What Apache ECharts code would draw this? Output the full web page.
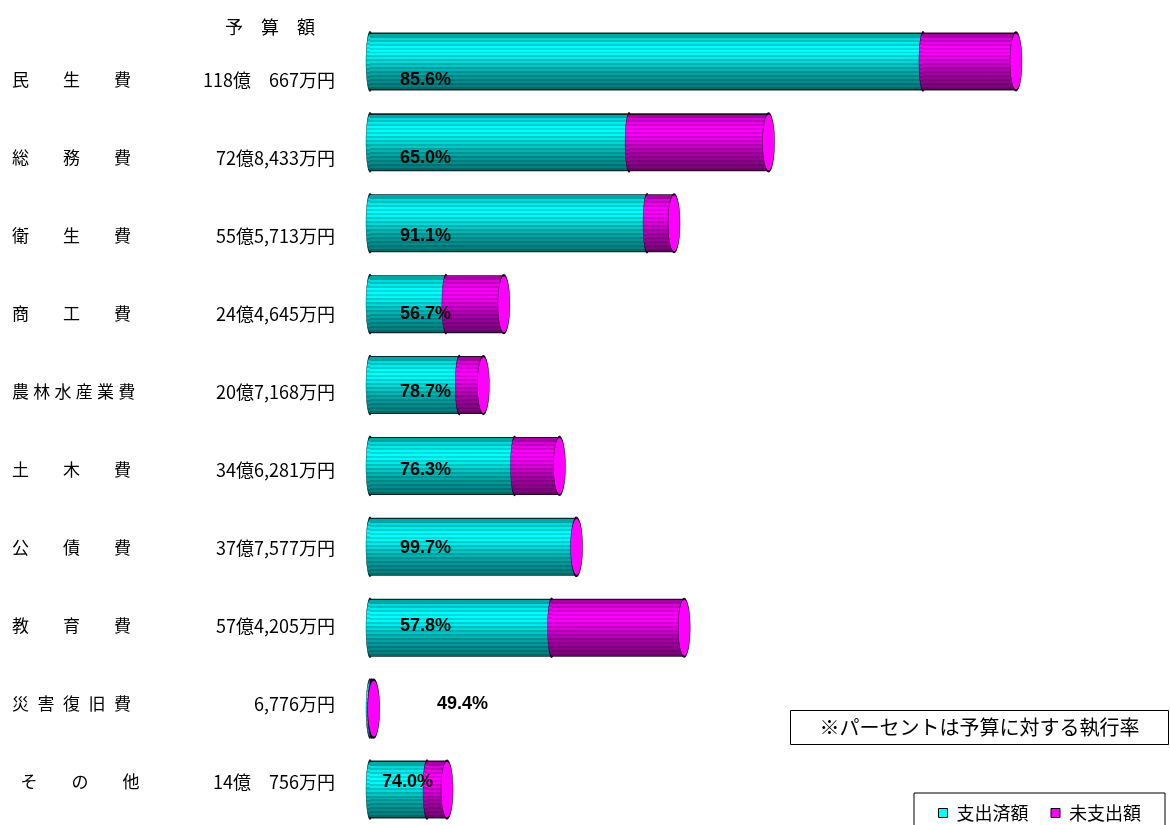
<!DOCTYPE html>
<html>
<head>
<meta charset="utf-8">
<script src="https://cdn.jsdelivr.net/npm/echarts@6/dist/echarts.min.js"></script>
<style>
  html, body { margin: 0; background: #fff; }
  #chart { width: 1170px; height: 825px; }
</style>
</head>
<body>
<div id="chart"></div>
<script>
// 款別の予算額（万円）と執行率（%）
const categories = [
  '民　　生　　費', '総　　務　　費', '衛　　生　　費', '商　　工　　費',
  '農\u2005林\u2005水\u2005産\u2005業\u2005費', '土　　木　　費', '公　　債　　費', '教　　育　　費',
  '災\u2002害\u2002復\u2002旧\u2002費', '\u2002そ　　の　　他'
];
const budgets = [1180667, 728433, 555713, 244645, 207168, 346281, 377577, 574205, 6776, 140756];
const rates = [85.6, 65.0, 91.1, 56.7, 78.7, 76.3, 99.7, 57.8, 49.4, 74.0];
const seriesNames = ['支出済額', '未支出額'];

const spent = budgets.map((b, i) => b * rates[i] / 100);
const unspent = budgets.map((b, i) => b - spent[i]);

function budgetText(v) {
  const oku = Math.floor(v / 10000);
  const man = v % 10000;
  if (!oku) return man.toLocaleString('en-US') + '万円';
  return oku + '億' + (man < 1000 ? '\u3000' : '') + man.toLocaleString('en-US') + '万円';
}

function interp(profile, t) {
  for (let i = 1; i < profile.length; i++) {
    if (t <= profile[i][0]) {
      const [t0, v0] = profile[i - 1], [t1, v1] = profile[i];
      return v0 + (v1 - v0) * (t - t0) / (t1 - t0);
    }
  }
  return profile[profile.length - 1][1];
}

// striped cylinder shading
function cylinder(profile, toColor, edge) {
  const n = 28;
  const stops = [{ offset: 0, color: edge }, { offset: 0.02, color: edge }];
  for (let i = 0; i < n; i++) {
    const t0 = 0.02 + 0.96 * i / n, t1 = 0.02 + 0.96 * (i + 1) / n;
    const lv = interp(profile, (t0 + t1) / 2) * (i % 2 ? 0.84 : 1);
    const c = toColor(Math.min(1, lv));
    stops.push({ offset: t0, color: c }, { offset: t1, color: c });
  }
  stops.push({ offset: 0.98, color: edge }, { offset: 1, color: edge });
  return new echarts.graphic.LinearGradient(0, 0, 0, 1, stops);
}

const shade = [[0, 0.55], [0.1, 0.85], [0.3, 1.05], [0.45, 0.92], [0.7, 0.66], [1, 0.45]];
const cyanFill = () => cylinder(shade, lv => `rgb(0,${Math.round(255 * lv)},${Math.round(255 * lv)})`, '#0a2a2a');
const magentaFill = () => cylinder(shade, lv => `rgb(${Math.round(255 * lv)},0,${Math.round(255 * lv)})`, '#2a0a2a');

const ellipse = 'path://M0,50 A50,50 0 1,1 100,50 A50,50 0 1,1 0,50 Z';
const barH = 58;
const jp = '"Noto Sans CJK JP", sans-serif';

const chart = echarts.init(document.getElementById('chart'));

chart.setOption({
  animation: false,
  textStyle: { fontFamily: jp },
  title: {
    text: '予\u3000算\u3000額',
    left: 220,
    top: 13,
    textStyle: { fontSize: 18, fontWeight: 'normal', color: '#000', fontFamily: jp }
  },
  legend: {
    right: 5,
    top: 793,
    padding: [11, 24, 20, 24],
    borderColor: '#000',
    borderWidth: 1,
    icon: 'rect',
    itemWidth: 9,
    itemHeight: 9,
    itemGap: 22,
    textStyle: { fontSize: 18, color: '#000', fontFamily: jp, padding: [0, 0, 0, 4] },
    data: [
      { name: seriesNames[0], itemStyle: { color: '#00ffff', borderColor: '#000', borderWidth: 1 } },
      { name: seriesNames[1], itemStyle: { color: '#ff00ff', borderColor: '#000', borderWidth: 1 } }
    ]
  },
  graphic: [{
    type: 'group',
    left: 790,
    top: 710,
    children: [
      { type: 'rect', shape: { x: 0, y: 0, width: 378, height: 34 }, style: { fill: '#fff', stroke: '#000', lineWidth: 1 } },
      {
        type: 'text', x: 189, y: 17,
        style: { text: '※パーセントは予算に対する執行率', fontSize: 20, fill: '#000', align: 'center', verticalAlign: 'middle', fontFamily: jp }
      }
    ]
  }],
  grid: [
    { left: 370, right: 34, top: 21, bottom: -5, outerBoundsMode: 'none' },
    { left: 370, right: 34, top: 41, bottom: 4, outerBoundsMode: 'none' }
  ],
  xAxis: [
    { type: 'value', gridIndex: 0, min: 0, max: 1400000, show: false },
    { type: 'value', gridIndex: 1, min: 0, max: 1400000, show: false }
  ],
  yAxis: [
    { type: 'category', gridIndex: 0, inverse: true, data: categories, show: false },
    {
      type: 'category', gridIndex: 1, inverse: true, data: categories,
      axisLine: { show: false }, axisTick: { show: false }, splitLine: { show: false },
      axisLabel: {
        margin: 35,
        formatter: (v, i) => `{n|${v}}{b|${budgetText(budgets[i])}}`,
        rich: {
          n: { width: 180, align: 'left', fontSize: 17, color: '#000', fontFamily: jp },
          b: { width: 143, align: 'right', fontSize: 18, color: '#000', fontFamily: jp }
        }
      }
    }
  ],
  series: [
    {
      type: 'scatter', silent: true, z: 1,
      symbol: ellipse, symbolSize: [8, barH],
      itemStyle: { color: cyanFill(), borderColor: '#0a2a2a', borderWidth: 1, opacity: 1 },
      data: budgets.map((b, i) => [0, i])
    },
    {
      name: seriesNames[0], type: 'bar', stack: 'total', z: 2,
      barWidth: barH,
      itemStyle: { color: cyanFill() },
      data: spent
    },
    {
      type: 'scatter', silent: true, z: 3,
      symbol: ellipse, symbolSize: [8, barH],
      itemStyle: { color: magentaFill(), borderColor: '#2a002a', borderWidth: 1, opacity: 1 },
      data: spent.map((v, i) => [v, i])
    },
    {
      name: seriesNames[1], type: 'bar', stack: 'total', z: 4,
      barWidth: barH,
      itemStyle: { color: magentaFill() },
      data: unspent
    },
    {
      type: 'scatter', silent: true, z: 5,
      symbol: ellipse, symbolSize: [12, barH],
      itemStyle: { color: '#ff00ff', borderColor: '#1a001a', borderWidth: 1, opacity: 1 },
      data: budgets.map((b, i) => [b, i])
    },
    {
      type: 'bar', xAxisIndex: 1, yAxisIndex: 1, silent: true, z: 6,
      barWidth: 2,
      itemStyle: { color: 'rgba(0,0,0,0)' },
      label: {
        show: true,
        position: 'insideLeft',
        distance: 0,
        fontFamily: '"Liberation Sans", Arial, sans-serif',
        fontWeight: 'bold',
        fontSize: 18,
        color: '#000'
      },
      data: spent.map((v, i) => ({
        value: v,
        label: {
          formatter: rates[i].toFixed(1) + '%',
          offset: [v < 20000 ? 67 : v < 120000 ? 12 : 30, 0]
        }
      }))
    }
  ]
});
</script>
</body>
</html>
